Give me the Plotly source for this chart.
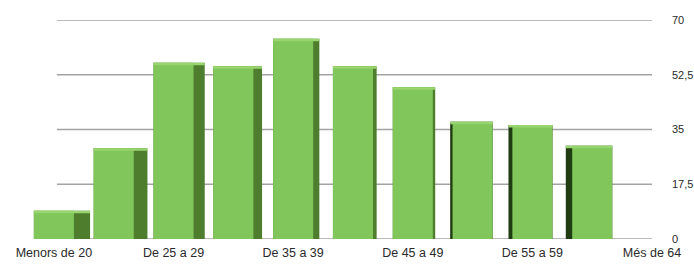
import plotly.graph_objects as go

categories = ["Menors de 20", "De 20 a 24", "De 25 a 29", "De 30 a 34", "De 35 a 39",
              "De 40 a 44", "De 45 a 49", "De 50 a 54", "De 55 a 59", "De 60 a 64", "Més de 64"]
values = [9, 29, 56.3, 55.2, 64, 55.2, 48.5, 37.5, 36.4, 29.8, 0]
shown_labels = ["Menors de 20", "De 25 a 29", "De 35 a 39", "De 45 a 49", "De 55 a 59", "Més de 64"]
y_ticks = [0, 17.5, 35, 52.5, 70]
y_tick_text = ["0", "17,5", "35", "52,5", "70"]

# --- styling (perspective of the pseudo-3D side faces) ---
FRONT_W = 0.67
VANISH = 6.45  # category position of the viewpoint
TOP_T = 0.8    # thickness of the lit top bevel (axis units)
side_w, side_off, side_col = [], [], []
for i in range(len(categories)):
    d = i - VANISH
    w = max(0.04, min(0.27, abs(d) * 0.042))
    side_w.append(FRONT_W + w)
    if d < 0:
        side_off.append(-FRONT_W / 2)
        side_col.append("#4e7d2d")
    else:
        side_off.append(-FRONT_W / 2 - w)
        side_col.append("#203c12")

top_base = [max(v - TOP_T, 0) for v in values]
top_h = [TOP_T if v > 0 else 0 for v in values]

fig = go.Figure()
fig.add_trace(go.Bar(x=categories, y=values, width=side_w, offset=side_off,
                     marker=dict(color=side_col, line=dict(width=0)), hoverinfo="skip"))
fig.add_trace(go.Bar(x=categories, y=values, width=FRONT_W, offset=-FRONT_W / 2,
                     marker=dict(color="#80c65a", line=dict(width=0))))
fig.add_trace(go.Bar(x=categories, y=top_h, base=top_base, width=side_w, offset=side_off,
                     marker=dict(color="#98d56e", line=dict(width=0)), hoverinfo="skip"))

for v in y_ticks:
    fig.add_shape(type="line", xref="x", yref="y", x0=0.05, x1=10.0, y0=v, y1=v,
                  line=dict(color="#a3a3a3", width=1.5), layer="below")

fig.update_layout(
    width=694, height=264,
    margin=dict(l=18, r=27, t=19.5, b=25),
    paper_bgcolor="white", plot_bgcolor="white",
    barmode="overlay", showlegend=False,
    font=dict(family="Liberation Sans, Arial, sans-serif", color="#2a2a2a"),
    xaxis=dict(type="category", categoryorder="array", categoryarray=categories,
               range=[-0.6, 10.25], tickmode="array", tickvals=shown_labels,
               ticktext=shown_labels, showgrid=False, zeroline=False, showline=False,
               ticks="", tickfont=dict(size=12.5), ticklabelstandoff=4, automargin=False),
    yaxis=dict(side="right", range=[0, 70], tickmode="array", tickvals=y_ticks,
               ticktext=y_tick_text, showgrid=False, zeroline=False, showline=False,
               ticks="", tickfont=dict(size=11), ticklabelstandoff=4, automargin=False),
)

# remove the browser's default 8px page margin so the 694x264 figure fills the window
fig.write_html("out.html", config={"displayModeBar": False},
               post_script="document.body.style.margin='0';")
